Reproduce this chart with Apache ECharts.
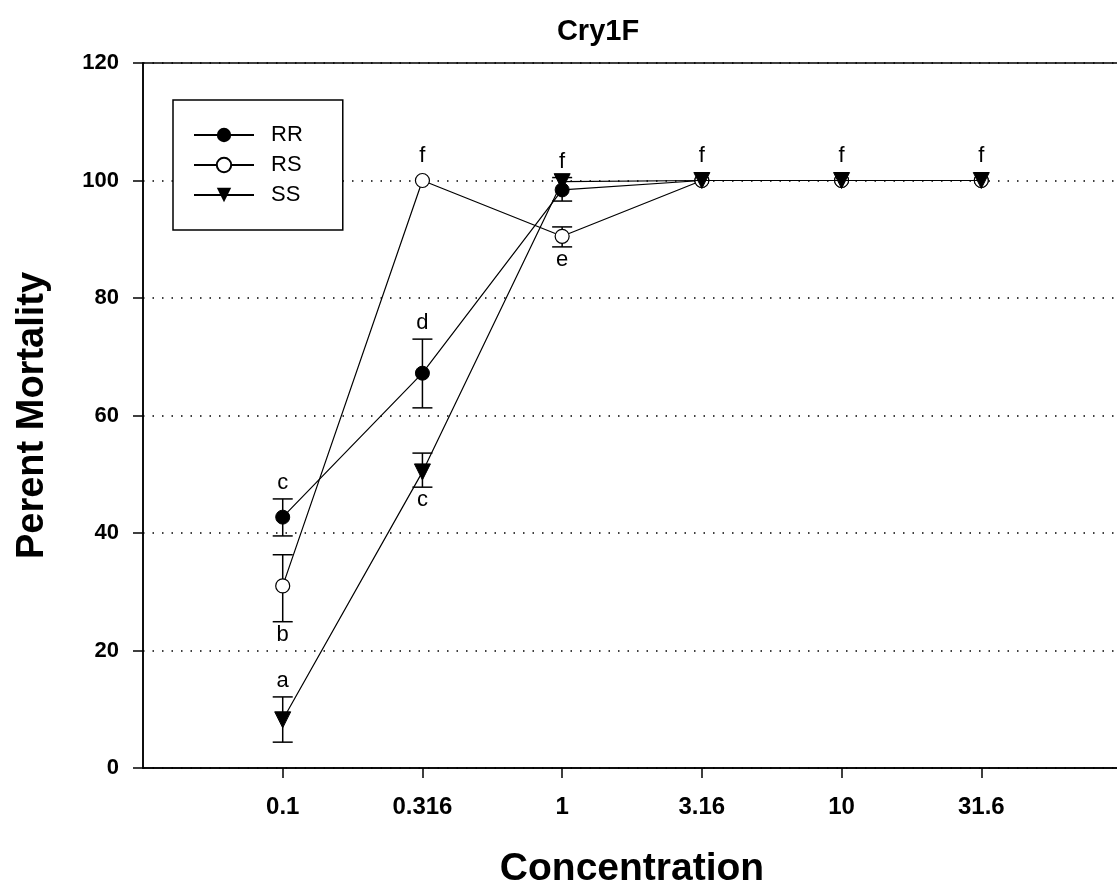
<!DOCTYPE html>
<html>
<head>
<meta charset="utf-8">
<script src="https://cdn.jsdelivr.net/npm/echarts@6/dist/echarts.min.js"></script>
<style>
  html, body { margin: 0; padding: 0; background: #fff; }
  #chart { width: 1117px; height: 890px; }
</style>
</head>
<body>
<div id="chart"></div>
<script>
  // concentrations on the x axis
  const categories = ['0.1', '0.316', '1', '3.16', '10', '31.6'];

  // mean mortality + error bar ends (null = no bar)
  const rrMean = [42.7, 67.2, 98.4, 100, 100, 100];
  const rrLow = [39.5, 61.3, 96.5, null, null, null];
  const rrHigh = [45.8, 73.0, 100.5, null, null, null];

  const rsMean = [31.0, 100, 90.5, 100, 100, 100];
  const rsLow = [24.9, null, 88.7, null, null, null];
  const rsHigh = [36.3, null, 92.1, null, null, null];

  const ssMean = [8.2, 50.4, 99.8, 100, 100, 100];
  const ssLow = [4.4, 47.8, null, null, null, null];
  const ssHigh = [12.1, 53.6, null, null, null, null];

  // significance letters
  const rrAbove = ['c', 'd', 'f', 'f', 'f', 'f'];
  const rrBelow = ['', '', '', '', '', ''];
  const rsAbove = ['', 'f', '', '', '', ''];
  const rsBelow = ['b', '', 'e', '', '', ''];
  const ssAbove = ['a', '', '', '', '', ''];
  const ssBelow = ['', 'c', '', '', '', ''];

  const font = '"Liberation Sans", Arial, sans-serif';

  function pts(mean) {
    return mean.map((v, i) => [i + 1, v]);
  }

  function errSeries(name, mean, low, high, above, below) {
    return {
      name: name,
      type: 'custom',
      z: 3,
      data: pts(mean),
      renderItem: function (params, api) {
        const i = params.dataIndex;
        const p = api.coord([i + 1, mean[i]]);
        const kids = [];
        const style = { stroke: '#000', lineWidth: 1.5 };
        let topY = p[1] - 9;
        let botY = p[1] + 9;
        if (low[i] != null) {
          const a = api.coord([i + 1, high[i]]);
          const b = api.coord([i + 1, low[i]]);
          topY = a[1];
          botY = b[1];
          kids.push({ type: 'line', shape: { x1: p[0], y1: a[1], x2: p[0], y2: b[1] }, style: style });
          kids.push({ type: 'line', shape: { x1: p[0] - 10, y1: a[1], x2: p[0] + 10, y2: a[1] }, style: style });
          kids.push({ type: 'line', shape: { x1: p[0] - 10, y1: b[1], x2: p[0] + 10, y2: b[1] }, style: style });
        }
        if (above[i]) {
          kids.push({ type: 'text', x: p[0], y: topY - 5,
            style: { text: above[i], fill: '#000', font: '22px ' + font, align: 'center', verticalAlign: 'bottom' } });
        }
        if (below[i]) {
          kids.push({ type: 'text', x: p[0], y: botY + 2,
            style: { text: below[i], fill: '#000', font: '22px ' + font, align: 'center', verticalAlign: 'top' } });
        }
        return { type: 'group', children: kids };
      }
    };
  }

  const chart = echarts.init(document.getElementById('chart'));
  chart.setOption({
    animation: false,
    backgroundColor: '#fff',
    title: {
      text: 'Cry1F',
      left: 593,
      textAlign: 'center',
      top: 12,
      textStyle: { fontFamily: font, fontWeight: 'bold', fontSize: 29, color: '#000' }
    },
    legend: {
      data: ['RR', 'RS', 'SS'],
      orient: 'vertical',
      left: 173,
      top: 100,
      padding: [24, 40, 24, 20],
      itemGap: 8,
      itemWidth: 60,
      itemHeight: 18,
      borderColor: '#000',
      borderWidth: 1.5,
      backgroundColor: '#fff',
      textStyle: { fontFamily: font, fontSize: 22, color: '#000', lineHeight: 22, padding: [0, 0, 0, 12] }
    },
    grid: {
      left: 143,
      right: -4,
      top: 63,
      bottom: 122,
      outerBoundsMode: 'none',
      show: true,
      borderColor: '#000',
      borderWidth: 1.5
    },
    xAxis: {
      type: 'value',
      min: 0,
      max: categories.length + 1,
      interval: 1,
      name: 'Concentration',
      nameLocation: 'middle',
      nameGap: 82,
      nameTextStyle: { fontFamily: font, fontWeight: 'bold', fontSize: 39, color: '#000' },
      axisLine: { lineStyle: { color: '#000', width: 1.5 } },
      axisTick: { length: 10, lineStyle: { color: '#000', width: 1.5 }, customValues: categories.map((c, i) => i + 1) },
      axisLabel: {
        customValues: categories.map((c, i) => i + 1),
        formatter: v => categories[v - 1],
        margin: 27,
        fontFamily: font,
        fontWeight: 'bold',
        fontSize: 24,
        color: '#000'
      },
      splitLine: { show: false }
    },
    yAxis: {
      type: 'value',
      min: 0,
      max: 120,
      interval: 20,
      name: 'Perent Mortality',
      nameLocation: 'middle',
      nameGap: 91,
      nameTextStyle: { fontFamily: font, fontWeight: 'bold', fontSize: 38, color: '#000' },
      axisLine: { show: true, lineStyle: { color: '#000', width: 1.5 } },
      axisTick: { show: true, length: 10, lineStyle: { color: '#000', width: 1.5 } },
      axisLabel: {
        margin: 24,
        fontFamily: font,
        fontWeight: 'bold',
        fontSize: 22,
        color: '#000'
      },
      splitLine: { show: true, lineStyle: { color: '#000', width: 1.5, type: [1.5, 8] } }
    },
    series: [
      errSeries('RR err', rrMean, rrLow, rrHigh, rrAbove, rrBelow),
      errSeries('RS err', rsMean, rsLow, rsHigh, rsAbove, rsBelow),
      errSeries('SS err', ssMean, ssLow, ssHigh, ssAbove, ssBelow),
      {
        name: 'RR', type: 'line', z: 4, data: pts(rrMean),
        symbol: 'circle', symbolSize: 14,
        lineStyle: { color: '#000', width: 1.2 },
        itemStyle: { color: '#000', borderColor: '#000' }
      },
      {
        name: 'RS', type: 'line', z: 5, data: pts(rsMean),
        symbol: 'circle', symbolSize: 14,
        lineStyle: { color: '#000', width: 1.2 },
        itemStyle: { color: '#fff', borderColor: '#000', borderWidth: 1.2 }
      },
      {
        name: 'SS', type: 'line', z: 6, data: pts(ssMean),
        symbol: 'triangle', symbolRotate: 180, symbolSize: 16,
        lineStyle: { color: '#000', width: 1.2 },
        itemStyle: { color: '#000', borderColor: '#000' }
      }
    ]
  });
</script>
</body>
</html>
